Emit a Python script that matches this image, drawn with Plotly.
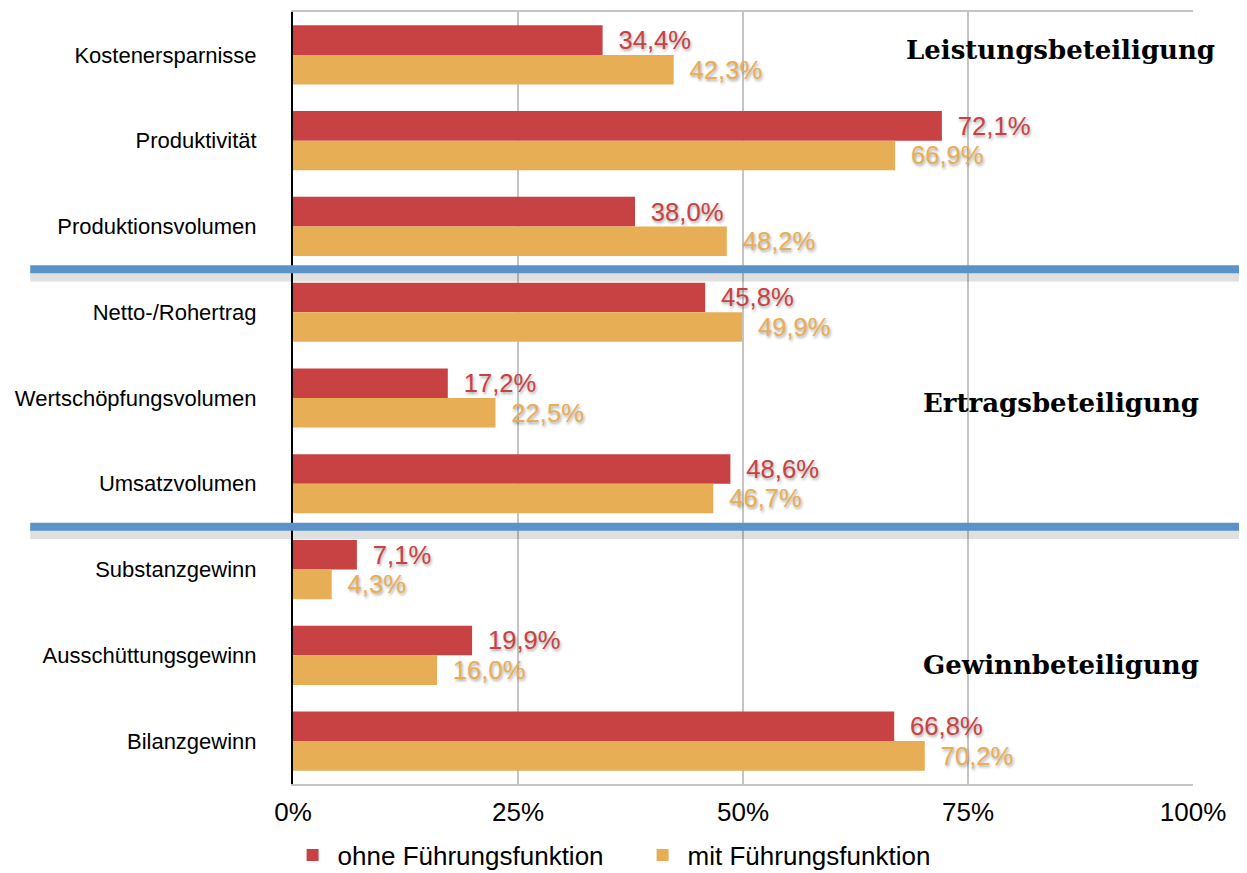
import plotly.graph_objects as go

categories = ["Kostenersparnisse", "Produktivität", "Produktionsvolumen",
              "Netto-/Rohertrag", "Wertschöpfungsvolumen", "Umsatzvolumen",
              "Substanzgewinn", "Ausschüttungsgewinn", "Bilanzgewinn"]
ohne = [34.4, 72.1, 38.0, 45.8, 17.2, 48.6, 7.1, 19.9, 66.8]
mit = [42.3, 66.9, 48.2, 49.9, 22.5, 46.7, 4.3, 16.0, 70.2]
sections = ["Leistungsbeteiligung", "Ertragsbeteiligung", "Gewinnbeteiligung"]
section_pos = [-0.06, 4.06, 7.11]
separators = [2.5, 5.5]
x_ticks = [0, 25, 50, 75, 100]
x_labels = ["0%", "25%", "50%", "75%", "100%"]

red = "#C84244"
orange = "#E8AE55"
shadow = "1px 2px 3px rgba(0,0,0,0.35)"

fig = go.Figure()
for name, vals, col in [("ohne Führungsfunktion", ohne, red),
                        ("mit Führungsfunktion", mit, orange)]:
    fig.add_trace(go.Bar(
        y=categories, x=vals, name=name, orientation="h",
        marker=dict(color=col, line=dict(width=0)),
        texttemplate="\u2002%{x:.1f}%", textposition="outside",
        textfont=dict(color=col, size=26, family="Liberation Sans", shadow=shadow),
        cliponaxis=False,
    ))

# section separators with a soft shadow
for s in separators:
    fig.add_shape(type="line", xref="paper", yref="y", x0=-0.292, x1=1.07,
                  y0=s + 0.085, y1=s + 0.085,
                  line=dict(color="rgba(0,0,0,0.12)", width=10), layer="above")
    fig.add_shape(type="line", xref="paper", yref="y", x0=-0.292, x1=1.07,
                  y0=s, y1=s, line=dict(color="#5B93C9", width=8), layer="above")

for txt, pos in zip(sections, section_pos):
    fig.add_annotation(text=txt, xref="paper", yref="y", x=0.853, y=pos,
                       xanchor="center", yanchor="middle", showarrow=False,
                       font=dict(family="DejaVu Serif", size=26, color="black",
                                 weight="bold"))

fig.update_layout(
    width=1247, height=873,
    margin=dict(l=285, r=62, t=4, b=97, autoexpand=False),
    plot_bgcolor="white", paper_bgcolor="white",
    barmode="group", bargap=0.31, bargroupgap=0,
    separators=",.",
    font=dict(family="Liberation Sans", color="black"),
    legend=dict(orientation="h", x=-0.006, xanchor="left", y=-0.092, yanchor="middle",
                font=dict(size=26), itemwidth=40,
                entrywidth=295, entrywidthmode="pixels"),
    xaxis=dict(range=[0, 100], tickvals=x_ticks, ticktext=x_labels,
               showgrid=True, gridcolor="#C4C4C4", gridwidth=2,
               showline=True, linecolor="#C4C4C4", linewidth=2, mirror=True,
               zeroline=False, tickfont=dict(size=26), ticklabelstandoff=4,
               automargin=False),
    yaxis=dict(autorange="reversed", showline=True, linecolor="black",
               linewidth=2, tickfont=dict(size=22), ticklabelstandoff=30,
               automargin=False),
)

fig.write_html("out.html")
